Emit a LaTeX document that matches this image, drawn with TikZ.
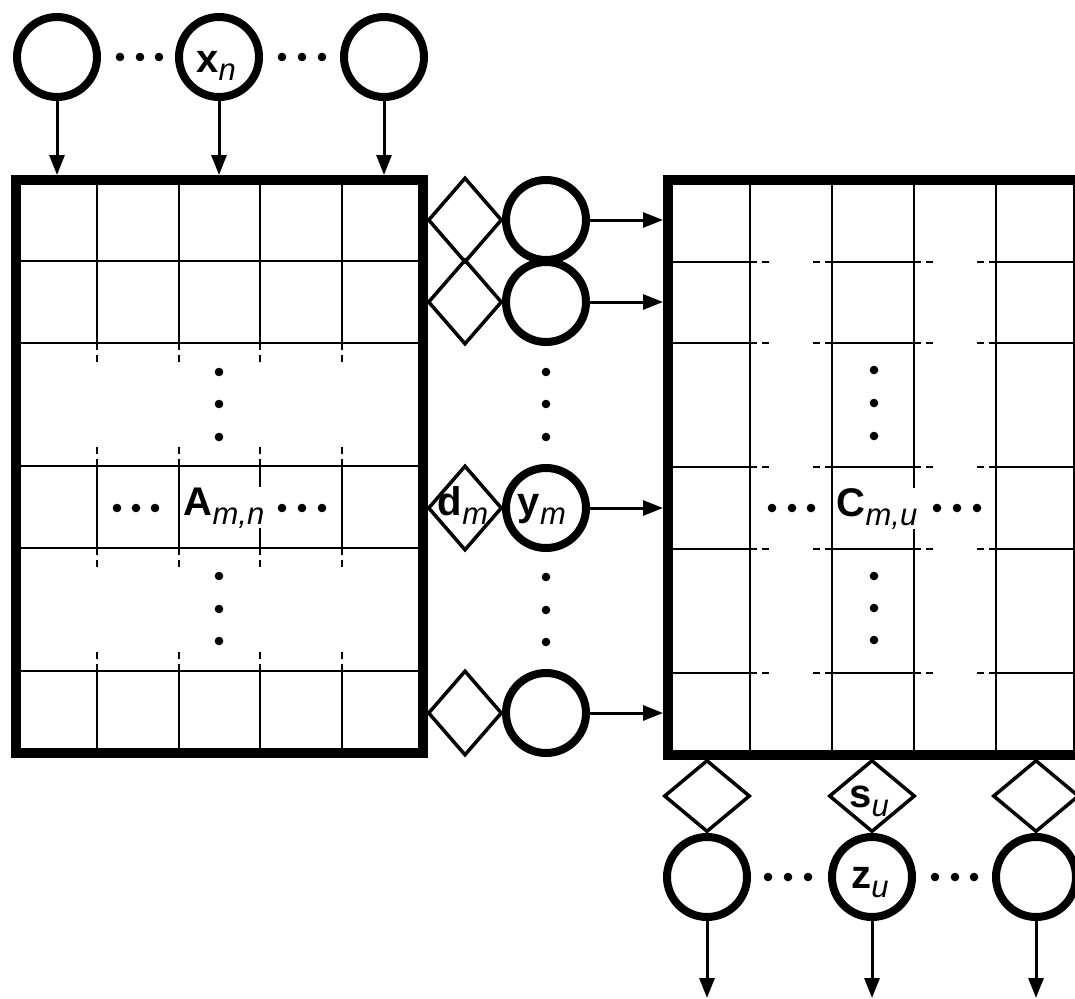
\documentclass[tikz,border=0pt]{standalone}
\usepackage{fontspec}
\usepackage{graphicx}
\setmainfont{Liberation Sans}
\usetikzlibrary{shapes.geometric,arrows.meta}
\newcommand{\mysym}[2]{{\fontsize{40}{40}\selectfont\bfseries #1\raisebox{-9pt}{\fontsize{31}{31}\selectfont\mdseries\itshape #2}}}
\begin{document}
\begin{tikzpicture}[x=1pt,y=-1pt,
  circ/.style={circle,draw,line width=8pt,minimum size=80pt,inner sep=0pt,fill=white},
  dmdv/.style={diamond,draw,line width=3.5pt,inner sep=0pt,minimum width=74pt,minimum height=85pt},
  dmdh/.style={diamond,draw,line width=3.5pt,inner sep=0pt,minimum width=86pt,minimum height=72pt},
  mat/.style={rectangle,draw,line width=10pt,inner sep=0pt,outer sep=0pt},
  gridl/.style={line width=2pt},
  stub/.style={line width=2pt,dash pattern=on 7pt off 5pt on 7pt off 60pt},
  arr/.style={line width=3pt,-{Triangle[length=20pt,width=15pt]}},
  lab/.style={inner sep=0pt},
  labf/.style={inner sep=0pt,fill=white},
]
\clip (0,0) rectangle (1075,998);
\fill[white] (0,0) rectangle (1075,998);

% left matrix grid
\foreach \y in {261,343,466,548,671} \draw[gridl] (16,\y) -- (423,\y);
\foreach \x in {97,179,260,342} {
  \draw[gridl] (\x,180) -- (\x,343);
  \draw[gridl] (\x,466) -- (\x,548);
  \draw[gridl] (\x,671) -- (\x,753);
  \draw[stub] (\x,343) -- (\x,365);
  \draw[stub] (\x,466) -- (\x,444);
  \draw[stub] (\x,548) -- (\x,570);
  \draw[stub] (\x,671) -- (\x,649);
}
% right matrix grid
\foreach \x in {750,832,914,996} \draw[gridl] (\x,180) -- (\x,755);
\foreach \y in {262,343,467,549,673} {
  \draw[gridl] (668,\y) -- (750,\y);
  \draw[gridl] (832,\y) -- (914,\y);
  \draw[gridl] (996,\y) -- (1078,\y);
  \draw[stub] (750,\y) -- (772,\y);
  \draw[stub] (832,\y) -- (810,\y);
  \draw[stub] (914,\y) -- (936,\y);
  \draw[stub] (996,\y) -- (974,\y);
}

% matrices
\node[mat,minimum width=407pt,minimum height=573pt,anchor=north west] (A) at (16,180) {};
\node[mat,minimum width=410pt,minimum height=575pt,anchor=north west] (C) at (668,180) {};

\node[labf,anchor=base] (Alab) at (224,515) {\mysym{A}{m,n}};
\node[labf,anchor=base] (Clab) at (877,516) {\mysym{C}{m,u}};

% top inputs
\node[circ] (x1) at (57,57) {};
\node[circ] (xn) at (219,57) {};
\node[circ] (x3) at (384,57) {};
\node[lab,anchor=base] (xnlab) at (216,72) {\mysym{x}{n}};
\draw[arr,shorten >=5pt] (x1) -- (x1 |- A.north);
\draw[arr,shorten >=5pt] (xn) -- (xn |- A.north);
\draw[arr,shorten >=5pt] (x3) -- (x3 |- A.north);

% middle column
\node[dmdv] (d1) at (465,220) {};
\node[dmdv] (d2) at (465,302) {};
\node[dmdv] (dm) at (465,508) {};
\node[dmdv] (dl) at (465,713) {};
\node[circ] (y1) at (546,220) {};
\node[circ] (y2) at (546,302) {};
\node[circ] (ym) at (546,508) {};
\node[circ] (yl) at (546,713) {};
\node[lab,anchor=base] (dmlab) at (463,515) {\mysym{d}{m}};
\node[lab,anchor=base] (ymlab) at (542,515) {\mysym{y}{m}};
\draw[arr,shorten >=5pt] (y1) -- (y1 -| C.west);
\draw[arr,shorten >=5pt] (y2) -- (y2 -| C.west);
\draw[arr,shorten >=5pt] (ym) -- (ym -| C.west);
\draw[arr,shorten >=5pt] (yl) -- (yl -| C.west);

% bottom outputs
\node[dmdh] (s1) at (707,796) {};
\node[dmdh] (su) at (872,796) {};
\node[dmdh] (s3) at (1036,796) {};
\node[circ] (z1) at (707,877) {};
\node[circ] (zu) at (872,877) {};
\node[circ] (z3) at (1036,877) {};
\node[lab,anchor=base] (sulab) at (869,807) {\mysym{s}{u}};
\node[lab,anchor=base] (zulab) at (870,888) {\mysym{z}{u}};
\coordinate (o1) at (707,998);
\coordinate (ou) at (872,998);
\coordinate (o3) at (1036,998);
\draw[arr] (z1) -- (o1);
\draw[arr] (zu) -- (ou);
\draw[arr] (z3) -- (o3);

% ellipsis dots
\foreach \p in {(120,57),(140,57),(159,57),(282,57),(302,57),(322,57),
  (219,372),(219,404),(219,437),(219,576),(219,609),(219,641),
  (117,508),(136,508),(155,508),(282,508),(302,508),(322,508),
  (546,372),(546,404),(546,437),(546,577),(546,610),(546,642),
  (874,370),(874,403),(874,436),(874,576),(874,608),(874,640),
  (772,508),(792,508),(811,508),(937,508),(957,508),(977,508),
  (768,877),(788,877),(808,877),(935,877),(955,877),(974,877)}
  \fill \p circle[radius=4.3pt];
\end{tikzpicture}
\end{document}
